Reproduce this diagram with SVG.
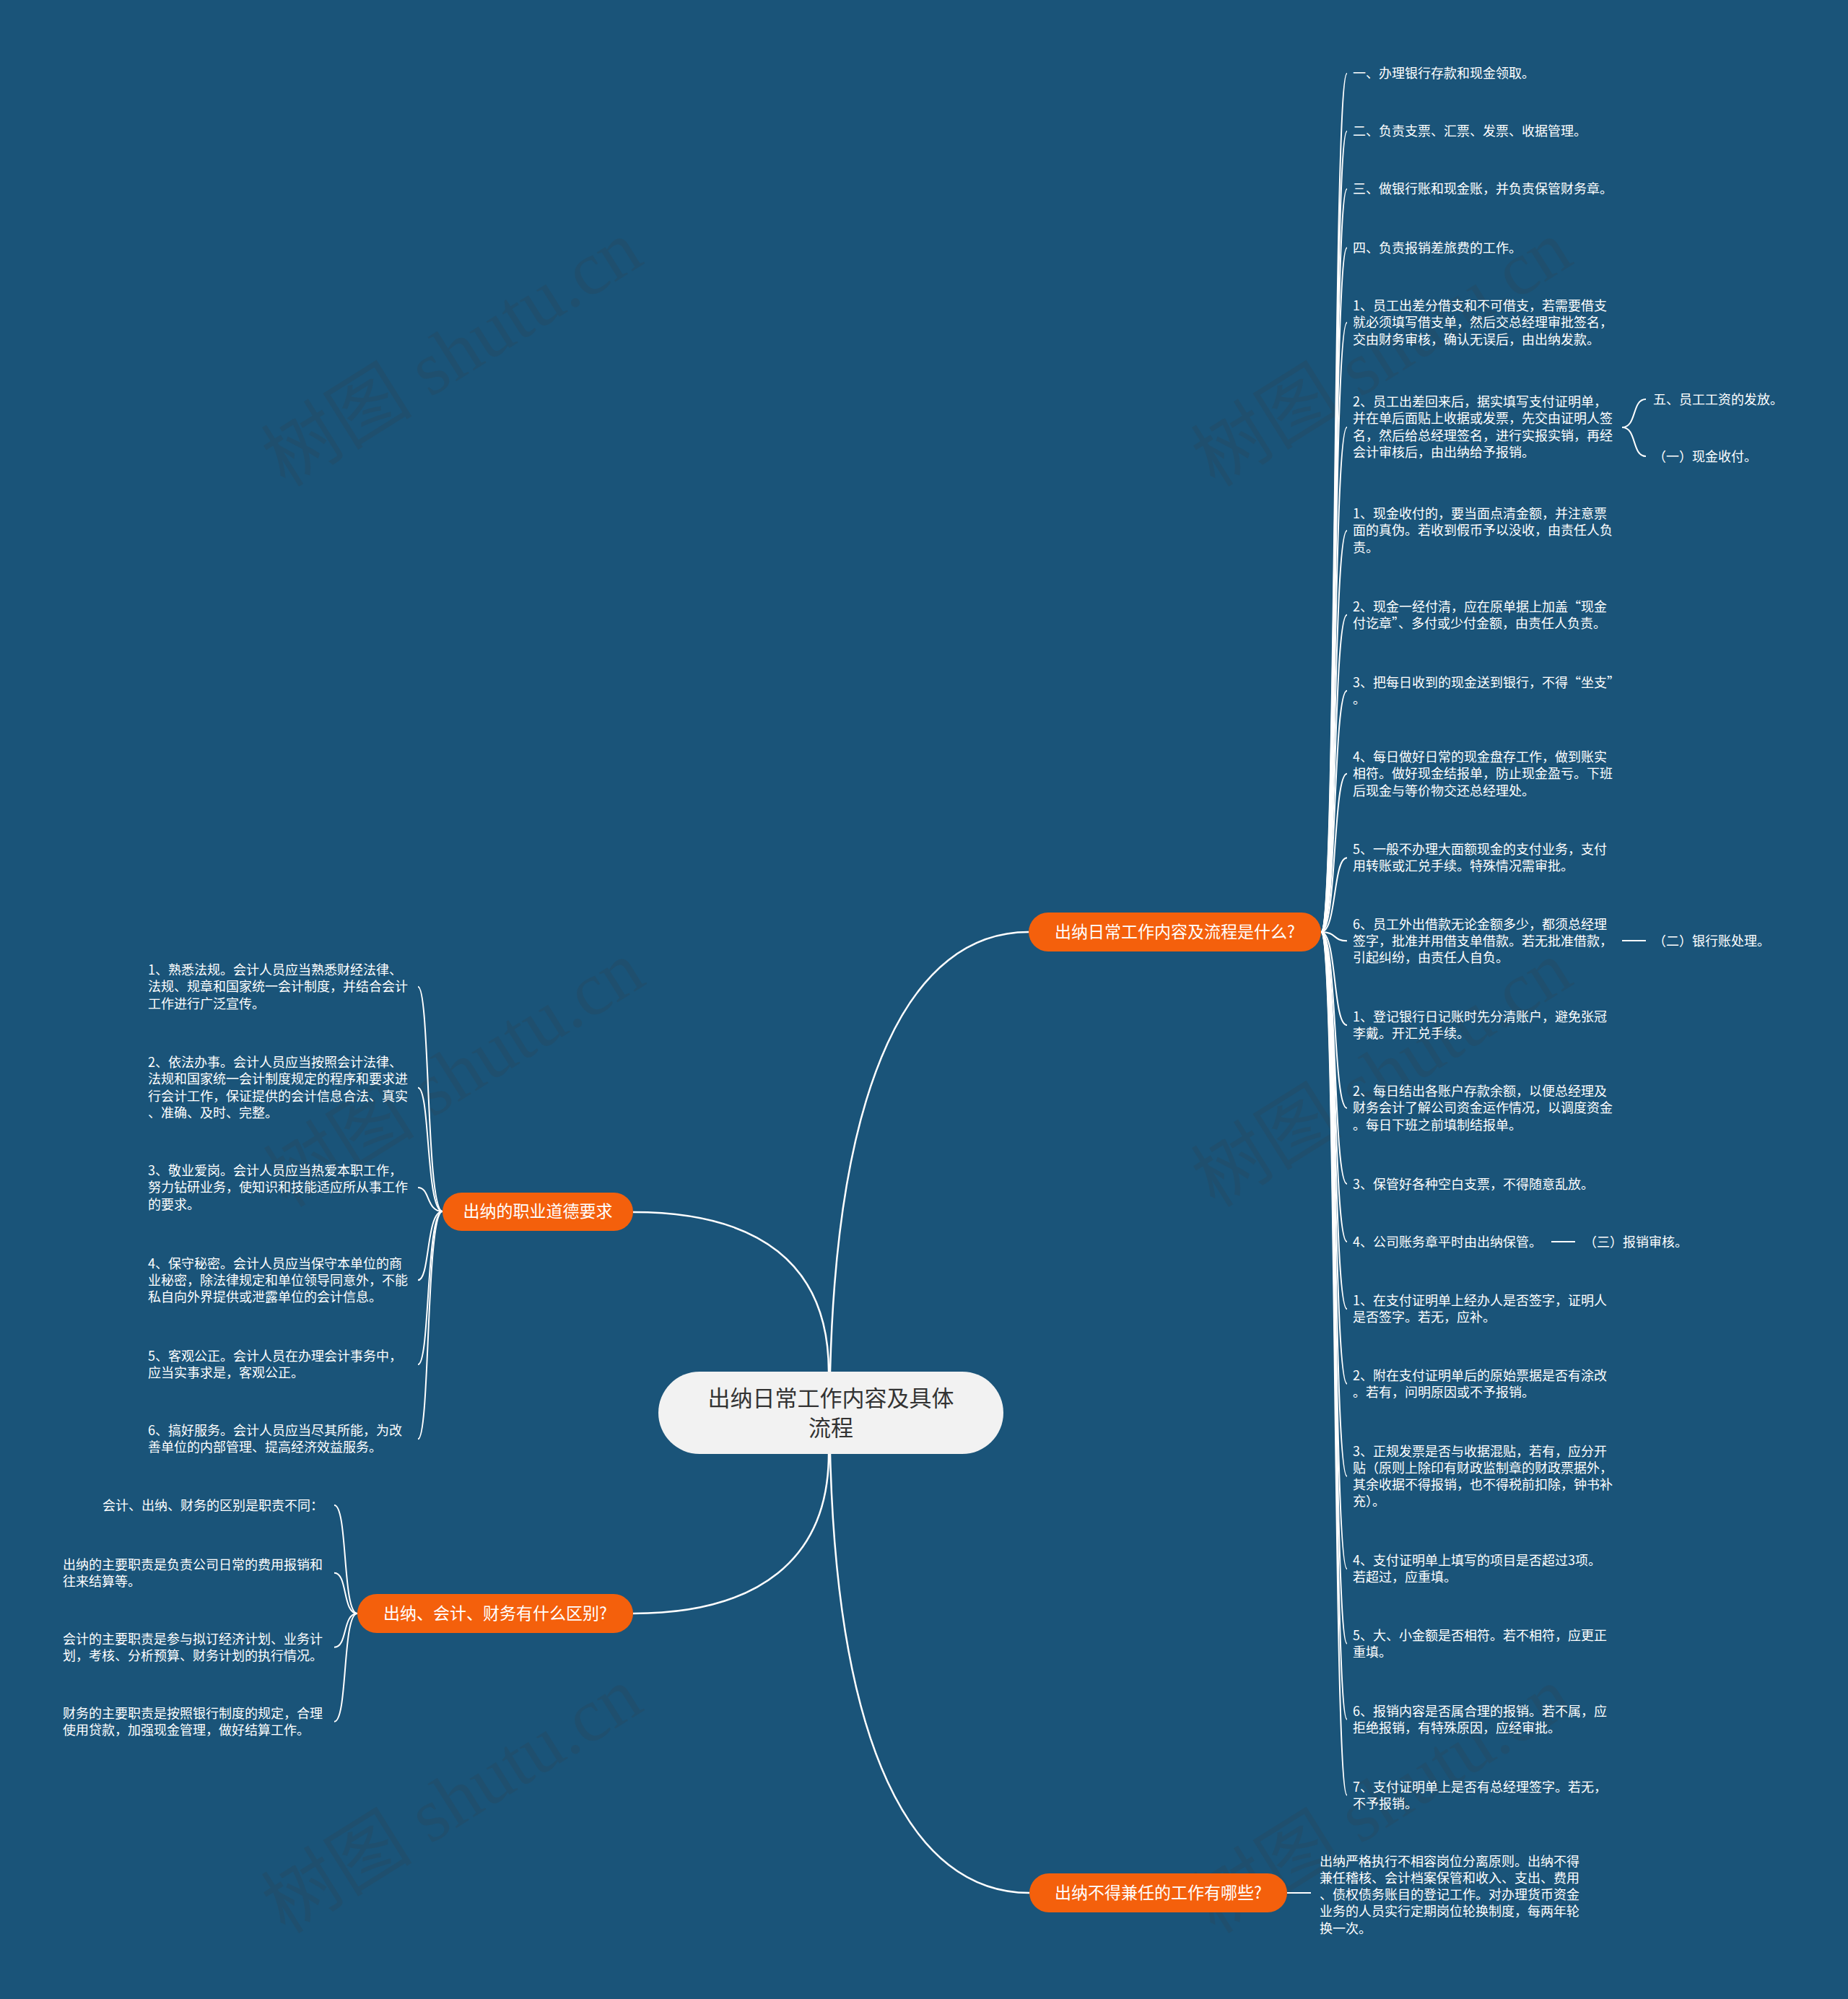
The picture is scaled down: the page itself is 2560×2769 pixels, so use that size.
<svg xmlns="http://www.w3.org/2000/svg" width="2560" height="2769" viewBox="0 0 2560 2769">
<style>
.bg{fill:#1a5479}
.wm{font-family:"Liberation Serif","Noto Sans CJK SC",serif;font-size:105px;fill:#3a3a3a;opacity:0.16}
.t{font-family:"Noto Sans CJK SC","Noto Sans CJK JP",sans-serif;font-size:18px;fill:#ffffff}
.bt{font-family:"Noto Sans CJK SC","Noto Sans CJK JP",sans-serif;font-size:23px;fill:#ffffff;text-anchor:middle}
.rt{font-family:"Noto Sans CJK SC","Noto Sans CJK JP",sans-serif;font-size:31px;fill:#333333;text-anchor:middle}
.pill{fill:#f4600c}
.root{fill:#f2f2f2}
.main{fill:none;stroke:#ffffff;stroke-width:2.5}
.sub{fill:none;stroke:#ffffff;stroke-width:2}
</style>
<rect class="bg" x="0" y="0" width="2560" height="2769"/>
<g id="watermarks">
<text class="wm" transform="translate(645,520) rotate(-32)" text-anchor="middle">树图 shutu.cn</text>
<text class="wm" transform="translate(1933,520) rotate(-32)" text-anchor="middle">树图 shutu.cn</text>
<text class="wm" transform="translate(648,1518) rotate(-32)" text-anchor="middle">树图 shutu.cn</text>
<text class="wm" transform="translate(1933,1518) rotate(-32)" text-anchor="middle">树图 shutu.cn</text>
<text class="wm" transform="translate(645,2524) rotate(-32)" text-anchor="middle">树图 shutu.cn</text>
<text class="wm" transform="translate(1933,2524) rotate(-32)" text-anchor="middle">树图 shutu.cn</text>
</g>
<g id="connectors">
<path class="main" d="M1150,1900 C1160,1500 1260,1291 1425,1291"/>
<path class="main" d="M877,1679 C1050,1679 1148,1750 1148,1900"/>
<path class="main" d="M1148,2014 C1148,2160 1050,2235 877,2235"/>
<path class="main" d="M1150,2014 C1160,2414 1260,2622 1426,2622"/>
<path class="sub" d="M1830,1291 C1852,1291 1846,101.7 1866,101.7"/>
<path class="sub" d="M1830,1291 C1852,1291 1846,181.7 1866,181.7"/>
<path class="sub" d="M1830,1291 C1852,1291 1846,261.7 1866,261.7"/>
<path class="sub" d="M1830,1291 C1852,1291 1846,343.3 1866,343.3"/>
<path class="sub" d="M1830,1291 C1852,1291 1846,446.7 1866,446.7"/>
<path class="sub" d="M1830,1291 C1852,1291 1846,591.7 1866,591.7"/>
<path class="sub" d="M1830,1291 C1852,1291 1846,735 1866,735"/>
<path class="sub" d="M1830,1291 C1852,1291 1846,851.7 1866,851.7"/>
<path class="sub" d="M1830,1291 C1852,1291 1846,956.7 1866,956.7"/>
<path class="sub" d="M1830,1291 C1852,1291 1846,1071.7 1866,1071.7"/>
<path class="sub" d="M1830,1291 C1852,1291 1846,1188.3 1866,1188.3"/>
<path class="sub" d="M1830,1291 C1852,1291 1846,1303.3 1866,1303.3"/>
<path class="sub" d="M1830,1291 C1852,1291 1846,1420 1866,1420"/>
<path class="sub" d="M1830,1291 C1852,1291 1846,1535 1866,1535"/>
<path class="sub" d="M1830,1291 C1852,1291 1846,1640 1866,1640"/>
<path class="sub" d="M1830,1291 C1852,1291 1846,1720 1866,1720"/>
<path class="sub" d="M1830,1291 C1852,1291 1846,1813.3 1866,1813.3"/>
<path class="sub" d="M1830,1291 C1852,1291 1846,1916.7 1866,1916.7"/>
<path class="sub" d="M1830,1291 C1852,1291 1846,2045 1866,2045"/>
<path class="sub" d="M1830,1291 C1852,1291 1846,2173.3 1866,2173.3"/>
<path class="sub" d="M1830,1291 C1852,1291 1846,2276.7 1866,2276.7"/>
<path class="sub" d="M1830,1291 C1852,1291 1846,2381.7 1866,2381.7"/>
<path class="sub" d="M1830,1291 C1852,1291 1846,2486.7 1866,2486.7"/>
<path class="sub" d="M2247,592 C2268,592 2260,553 2280,553"/>
<path class="sub" d="M2247,592 C2268,592 2260,632 2280,632"/>
<path class="sub" d="M2247,1303 L2280,1303"/>
<path class="sub" d="M2149,1720 L2182,1720"/>
<path class="sub" d="M613,1678 C590,1678 596,1366.7 579,1366.7"/>
<path class="sub" d="M613,1678 C590,1678 596,1506.7 579,1506.7"/>
<path class="sub" d="M613,1678 C590,1678 596,1645 579,1645"/>
<path class="sub" d="M613,1678 C590,1678 596,1773.3 579,1773.3"/>
<path class="sub" d="M613,1678 C590,1678 596,1890 579,1890"/>
<path class="sub" d="M613,1678 C590,1678 596,1993.3 579,1993.3"/>
<path class="sub" d="M495,2235 C474,2235 482,2085 463,2085"/>
<path class="sub" d="M495,2235 C474,2235 482,2178.7 463,2178.7"/>
<path class="sub" d="M495,2235 C474,2235 482,2281.7 463,2281.7"/>
<path class="sub" d="M495,2235 C474,2235 482,2384.7 463,2384.7"/>
<path class="sub" d="M1783,2622 L1816,2622"/>
</g>
<g id="root">
<rect class="root" x="912" y="1900" width="478" height="114" rx="57"/>
<text class="rt" x="1151" y="1948">出纳日常工作内容及具体</text>
<text class="rt" x="1151" y="1989">流程</text>
</g>
<g id="b1">
<rect class="pill" x="1425" y="1264" width="405" height="54" rx="27"/>
<text class="bt" x="1627.5" y="1299">出纳日常工作内容及流程是什么?</text>
</g>
<g id="b2">
<rect class="pill" x="613" y="1652" width="264" height="53" rx="26.5"/>
<text class="bt" x="745" y="1686">出纳的职业道德要求</text>
</g>
<g id="b3">
<rect class="pill" x="495" y="2208" width="382" height="54" rx="27"/>
<text class="bt" x="686" y="2243">出纳、会计、财务有什么区别?</text>
</g>
<g id="b4">
<rect class="pill" x="1426" y="2595" width="357" height="54" rx="27"/>
<text class="bt" x="1604.5" y="2630">出纳不得兼任的工作有哪些?</text>
</g>
<g id="b1c1"><text class="t" x="1874" y="108">一、办理银行存款和现金领取。</text></g>
<g id="b1c2"><text class="t" x="1874" y="188">二、负责支票、汇票、发票、收据管理。</text></g>
<g id="b1c3"><text class="t" x="1874" y="268">三、做银行账和现金账，并负责保管财务章。</text></g>
<g id="b1c4"><text class="t" x="1874" y="350">四、负责报销差旅费的工作。</text></g>
<g id="b1c5"><text class="t" x="1874" y="430">1、员工出差分借支和不可借支，若需要借支<tspan x="1874" dy="23.3">就必须填写借支单，然后交总经理审批签名，</tspan><tspan x="1874" dy="23.3">交由财务审核，确认无误后，由出纳发款。</tspan></text></g>
<g id="b1c6"><text class="t" x="1874" y="563">2、员工出差回来后，据实填写支付证明单，<tspan x="1874" dy="23.3">并在单后面贴上收据或发票，先交由证明人签</tspan><tspan x="1874" dy="23.3">名，然后给总经理签名，进行实报实销，再经</tspan><tspan x="1874" dy="23.3">会计审核后，由出纳给予报销。</tspan></text></g>
<g id="b1c6a"><text class="t" x="2290" y="559.5">五、员工工资的发放。</text></g>
<g id="b1c6b"><text class="t" x="2290" y="638.5">（一）现金收付。</text></g>
<g id="b1c7"><text class="t" x="1874" y="718">1、现金收付的，要当面点清金额，并注意票<tspan x="1874" dy="23.3">面的真伪。若收到假币予以没收，由责任人负</tspan><tspan x="1874" dy="23.3">责。</tspan></text></g>
<g id="b1c8"><text class="t" x="1874" y="846.5">2、现金一经付清，应在原单据上加盖“现金<tspan x="1874" dy="23.3">付讫章”、多付或少付金额，由责任人负责。</tspan></text></g>
<g id="b1c9"><text class="t" x="1874" y="951.5">3、把每日收到的现金送到银行，不得“坐支”<tspan x="1874" dy="23.3">。</tspan></text></g>
<g id="b1c10"><text class="t" x="1874" y="1055">4、每日做好日常的现金盘存工作，做到账实<tspan x="1874" dy="23.3">相符。做好现金结报单，防止现金盈亏。下班</tspan><tspan x="1874" dy="23.3">后现金与等价物交还总经理处。</tspan></text></g>
<g id="b1c11"><text class="t" x="1874" y="1183">5、一般不办理大面额现金的支付业务，支付<tspan x="1874" dy="23.3">用转账或汇兑手续。特殊情况需审批。</tspan></text></g>
<g id="b1c12"><text class="t" x="1874" y="1286.5">6、员工外出借款无论金额多少，都须总经理<tspan x="1874" dy="23.3">签字，批准并用借支单借款。若无批准借款，</tspan><tspan x="1874" dy="23.3">引起纠纷，由责任人自负。</tspan></text></g>
<g id="b1c12a"><text class="t" x="2290" y="1309.5">（二）银行账处理。</text></g>
<g id="b1c13"><text class="t" x="1874" y="1415">1、登记银行日记账时先分清账户，避免张冠<tspan x="1874" dy="23.3">李戴。开汇兑手续。</tspan></text></g>
<g id="b1c14"><text class="t" x="1874" y="1518">2、每日结出各账户存款余额，以便总经理及<tspan x="1874" dy="23.3">财务会计了解公司资金运作情况，以调度资金</tspan><tspan x="1874" dy="23.3">。每日下班之前填制结报单。</tspan></text></g>
<g id="b1c15"><text class="t" x="1874" y="1646.5">3、保管好各种空白支票，不得随意乱放。</text></g>
<g id="b1c16"><text class="t" x="1874" y="1726.5">4、公司账务章平时由出纳保管。</text></g>
<g id="b1c16a"><text class="t" x="2194" y="1726.5">（三）报销审核。</text></g>
<g id="b1c17"><text class="t" x="1874" y="1808">1、在支付证明单上经办人是否签字，证明人<tspan x="1874" dy="23.3">是否签字。若无，应补。</tspan></text></g>
<g id="b1c18"><text class="t" x="1874" y="1911.5">2、附在支付证明单后的原始票据是否有涂改<tspan x="1874" dy="23.3">。若有，问明原因或不予报销。</tspan></text></g>
<g id="b1c19"><text class="t" x="1874" y="2016.5">3、正规发票是否与收据混贴，若有，应分开<tspan x="1874" dy="23.3">贴（原则上除印有财政监制章的财政票据外，</tspan><tspan x="1874" dy="23.3">其余收据不得报销，也不得税前扣除，钟书补</tspan><tspan x="1874" dy="23.3">充）。</tspan></text></g>
<g id="b1c20"><text class="t" x="1874" y="2168">4、支付证明单上填写的项目是否超过3项。<tspan x="1874" dy="23.3">若超过，应重填。</tspan></text></g>
<g id="b1c21"><text class="t" x="1874" y="2271.5">5、大、小金额是否相符。若不相符，应更正<tspan x="1874" dy="23.3">重填。</tspan></text></g>
<g id="b1c22"><text class="t" x="1874" y="2376.5">6、报销内容是否属合理的报销。若不属，应<tspan x="1874" dy="23.3">拒绝报销，有特殊原因，应经审批。</tspan></text></g>
<g id="b1c23"><text class="t" x="1874" y="2481.5">7、支付证明单上是否有总经理签字。若无，<tspan x="1874" dy="23.3">不予报销。</tspan></text></g>
<g id="b2c1"><text class="t" x="205" y="1350">1、熟悉法规。会计人员应当熟悉财经法律、<tspan x="205" dy="23.3">法规、规章和国家统一会计制度，并结合会计</tspan><tspan x="205" dy="23.3">工作进行广泛宣传。</tspan></text></g>
<g id="b2c2"><text class="t" x="205" y="1478">2、依法办事。会计人员应当按照会计法律、<tspan x="205" dy="23.3">法规和国家统一会计制度规定的程序和要求进</tspan><tspan x="205" dy="23.3">行会计工作，保证提供的会计信息合法、真实</tspan><tspan x="205" dy="23.3">、准确、及时、完整。</tspan></text></g>
<g id="b2c3"><text class="t" x="205" y="1628">3、敬业爱岗。会计人员应当热爱本职工作，<tspan x="205" dy="23.3">努力钻研业务，使知识和技能适应所从事工作</tspan><tspan x="205" dy="23.3">的要求。</tspan></text></g>
<g id="b2c4"><text class="t" x="205" y="1756.5">4、保守秘密。会计人员应当保守本单位的商<tspan x="205" dy="23.3">业秘密，除法律规定和单位领导同意外，不能</tspan><tspan x="205" dy="23.3">私自向外界提供或泄露单位的会计信息。</tspan></text></g>
<g id="b2c5"><text class="t" x="205" y="1885">5、客观公正。会计人员在办理会计事务中，<tspan x="205" dy="23.3">应当实事求是，客观公正。</tspan></text></g>
<g id="b2c6"><text class="t" x="205" y="1988">6、搞好服务。会计人员应当尽其所能，为改<tspan x="205" dy="23.3">善单位的内部管理、提高经济效益服务。</tspan></text></g>
<g id="b3c1"><text class="t" x="142" y="2091.5">会计、出纳、财务的区别是职责不同：</text></g>
<g id="b3c2"><text class="t" x="87" y="2173.5">出纳的主要职责是负责公司日常的费用报销和<tspan x="87" dy="23.3">往来结算等。</tspan></text></g>
<g id="b3c3"><text class="t" x="87" y="2276.5">会计的主要职责是参与拟订经济计划、业务计<tspan x="87" dy="23.3">划，考核、分析预算、财务计划的执行情况。</tspan></text></g>
<g id="b3c4"><text class="t" x="87" y="2379.5">财务的主要职责是按照银行制度的规定，合理<tspan x="87" dy="23.3">使用贷款，加强现金管理，做好结算工作。</tspan></text></g>
<g id="b4c1"><text class="t" x="1828" y="2584.5">出纳严格执行不相容岗位分离原则。出纳不得<tspan x="1828" dy="23.3">兼任稽核、会计档案保管和收入、支出、费用</tspan><tspan x="1828" dy="23.3">、债权债务账目的登记工作。对办理货币资金</tspan><tspan x="1828" dy="23.3">业务的人员实行定期岗位轮换制度，每两年轮</tspan><tspan x="1828" dy="23.3">换一次。</tspan></text></g>
</svg>
